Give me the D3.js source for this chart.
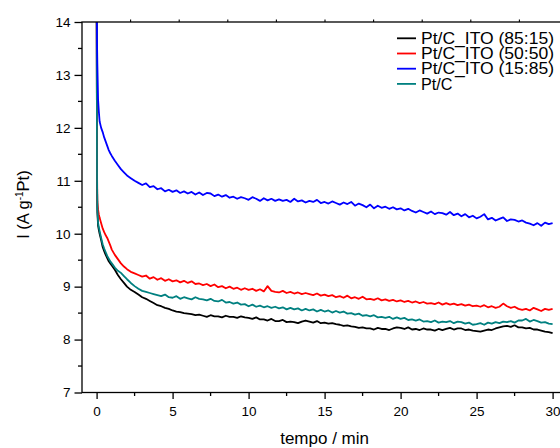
<!DOCTYPE html>
<html><head><meta charset="utf-8">
<script src="https://cdn.jsdelivr.net/npm/d3@7"></script>
<style>
body{margin:0;background:#fff}
svg{display:block}
text{font-family:"Liberation Sans",Arial,Helvetica,sans-serif;fill:#000}
</style>
</head><body>
<svg id="chart" width="560" height="448"></svg>
<script>
// ---------- data ----------
const seriesNames = ["Pt/C_ITO (85:15)", "Pt/C_ITO (50:50)", "Pt/C_ITO (15:85)", "Pt/C"];
const seriesColors = ["#000000", "#ff0000", "#0000ff", "#008080"];
const xTickValues = [0, 5, 10, 15, 20, 25, 30];
const yTickValues = [7, 8, 9, 10, 11, 12, 13, 14];
const xTitle = "tempo / min";

const time = [
  0, 0.03, 0.05, 0.1, 0.15, 0.2, 0.3, 0.4, 0.5, 0.6, 0.7, 0.8, 0.9, 1.0, 1.2, 1.4, 1.6, 1.8, 2.0, 2.25, 2.5, 2.75,
  3, 3.25, 3.5, 3.75, 4, 4.25, 4.5, 4.75, 5, 5.25, 5.5, 5.75, 6, 6.25, 6.5, 6.75,
  7, 7.25, 7.5, 7.75, 8, 8.25, 8.5, 8.75, 9, 9.25, 9.5, 9.75, 10, 10.25, 10.5, 10.75,
  11, 11.25, 11.5, 11.75, 12, 12.25, 12.5, 12.75, 13, 13.25, 13.5, 13.75, 14, 14.25, 14.5, 14.75,
  15, 15.25, 15.5, 15.75, 16, 16.25, 16.5, 16.75, 17, 17.25, 17.5, 17.75, 18, 18.25, 18.5, 18.75,
  19, 19.25, 19.5, 19.75, 20, 20.25, 20.5, 20.75, 21, 21.25, 21.5, 21.75, 22, 22.25, 22.5, 22.75,
  23, 23.25, 23.5, 23.75, 24, 24.25, 24.5, 24.75, 25, 25.25, 25.5, 25.75, 26, 26.25, 26.5, 26.75,
  27, 27.25, 27.5, 27.75, 28, 28.25, 28.5, 28.75, 29, 29.25, 29.5, 29.75, 30
];

const ito8515 = [
  15, 10.9, 10.4, 10.15, 10.07, 10.0, 9.88, 9.75, 9.67, 9.6, 9.54, 9.48, 9.44, 9.4, 9.32, 9.22, 9.14, 9.07, 9.0, 8.94, 8.9, 8.85,
  8.80, 8.77, 8.73, 8.69, 8.65, 8.63, 8.60, 8.58, 8.55, 8.53, 8.52, 8.50, 8.49, 8.48, 8.46, 8.47,
  8.45, 8.43, 8.46, 8.44, 8.44, 8.42, 8.45, 8.43, 8.43, 8.41, 8.44, 8.42, 8.41, 8.39, 8.42, 8.38,
  8.38, 8.36, 8.39, 8.35, 8.35, 8.37, 8.33, 8.34, 8.33, 8.31, 8.34, 8.36, 8.34, 8.32, 8.35, 8.31,
  8.32, 8.30, 8.31, 8.29, 8.28, 8.26, 8.27, 8.25, 8.24, 8.22, 8.23, 8.21, 8.21, 8.19, 8.22, 8.20,
  8.20, 8.18, 8.21, 8.23, 8.22, 8.20, 8.23, 8.19, 8.20, 8.18, 8.21, 8.19, 8.19, 8.17, 8.20, 8.18,
  8.20, 8.22, 8.19, 8.21, 8.21, 8.18, 8.19, 8.17, 8.16, 8.15, 8.17, 8.19, 8.18, 8.21, 8.23, 8.25,
  8.26, 8.24, 8.27, 8.23, 8.23, 8.21, 8.22, 8.19, 8.19, 8.17, 8.15, 8.14, 8.12
];

const ito5050 = [
  15, 11.2, 10.6, 10.45, 10.36, 10.3, 10.2, 10.1, 10.03, 9.97, 9.92, 9.85, 9.78, 9.7, 9.6, 9.52, 9.44, 9.38, 9.33, 9.28, 9.25, 9.22,
  9.19, 9.21, 9.15, 9.18, 9.13, 9.16, 9.11, 9.14, 9.10, 9.12, 9.08, 9.11, 9.07, 9.10, 9.05, 9.06,
  9.03, 9.05, 9.01, 9.04, 8.99, 9.01, 8.97, 9.00, 8.96, 8.98, 8.94, 8.97, 8.94, 8.96, 8.92, 8.95,
  8.91, 9.01, 8.92, 8.90, 8.89, 8.92, 8.88, 8.90, 8.87, 8.89, 8.86, 8.88, 8.86, 8.84, 8.87, 8.83,
  8.85, 8.82, 8.84, 8.80, 8.82, 8.79, 8.83, 8.78, 8.80, 8.77, 8.81, 8.76, 8.77, 8.75, 8.78, 8.74,
  8.76, 8.73, 8.75, 8.72, 8.74, 8.71, 8.73, 8.70, 8.72, 8.69, 8.71, 8.68, 8.69, 8.67, 8.70, 8.66,
  8.69, 8.66, 8.68, 8.65, 8.67, 8.64, 8.66, 8.63, 8.64, 8.62, 8.65, 8.61, 8.63, 8.60, 8.62, 8.68,
  8.63, 8.60, 8.62, 8.58, 8.56, 8.58, 8.55, 8.60, 8.57, 8.54, 8.58, 8.56, 8.58
];

const ito1585 = [
  15, 13.6, 13.2, 12.52, 12.3, 12.12, 12.0, 11.92, 11.82, 11.74, 11.66, 11.58, 11.52, 11.47, 11.38, 11.30, 11.22, 11.16, 11.10, 11.05, 11.00, 10.96,
  10.92, 10.95, 10.88, 10.90, 10.84, 10.86, 10.80, 10.83, 10.79, 10.82, 10.77, 10.80, 10.76, 10.79, 10.74, 10.78,
  10.73, 10.77, 10.76, 10.71, 10.74, 10.70, 10.73, 10.68, 10.70, 10.66, 10.69, 10.67, 10.64, 10.69, 10.66, 10.62,
  10.67, 10.63, 10.66, 10.62, 10.65, 10.62, 10.64, 10.60, 10.66, 10.61, 10.63, 10.59, 10.62, 10.60, 10.64, 10.58,
  10.60, 10.57, 10.61, 10.58, 10.55, 10.59, 10.56, 10.60, 10.53, 10.57, 10.54, 10.50, 10.55, 10.48, 10.53, 10.49,
  10.51, 10.47, 10.50, 10.46, 10.48, 10.44, 10.47, 10.43, 10.40, 10.44, 10.41, 10.38, 10.42, 10.37, 10.40, 10.39,
  10.36, 10.41, 10.35, 10.38, 10.33, 10.37, 10.31, 10.34, 10.29, 10.32, 10.37, 10.27, 10.30, 10.25, 10.28, 10.31,
  10.24, 10.27, 10.26, 10.23, 10.25, 10.21, 10.19, 10.16, 10.20, 10.15, 10.21, 10.18, 10.20
];

const ptc = [
  15, 11.0, 10.5, 10.2, 10.12, 10.05, 9.92, 9.8, 9.72, 9.65, 9.58, 9.53, 9.48, 9.44, 9.36, 9.3, 9.26, 9.2, 9.14, 9.07, 9.01, 8.96,
  8.92, 8.90, 8.88, 8.86, 8.84, 8.82, 8.85, 8.80, 8.79, 8.82, 8.77, 8.80, 8.78, 8.76, 8.80, 8.77,
  8.76, 8.74, 8.77, 8.73, 8.72, 8.75, 8.70, 8.71, 8.68, 8.70, 8.66, 8.67, 8.63, 8.66, 8.62, 8.64,
  8.61, 8.63, 8.60, 8.62, 8.59, 8.61, 8.57, 8.60, 8.57, 8.59, 8.55, 8.58, 8.55, 8.57, 8.53, 8.56,
  8.53, 8.55, 8.51, 8.54, 8.51, 8.53, 8.49, 8.50, 8.47, 8.49, 8.45, 8.46, 8.44, 8.46, 8.42, 8.43,
  8.41, 8.43, 8.39, 8.42, 8.39, 8.41, 8.37, 8.38, 8.36, 8.38, 8.34, 8.35, 8.33, 8.36, 8.32, 8.34,
  8.33, 8.35, 8.31, 8.34, 8.33, 8.30, 8.32, 8.28, 8.29, 8.31, 8.28, 8.32, 8.30, 8.33, 8.31, 8.34,
  8.33, 8.35, 8.32, 8.36, 8.36, 8.39, 8.34, 8.37, 8.35, 8.32, 8.33, 8.30, 8.29
];

const seriesValues = [ito8515, ito5050, ito1585, ptc];
const drawOrder = [0, 1, 3, 2];

// ---------- layout ----------
const svg = d3.select("#chart");
const x = d3.scaleLinear().domain([-0.96, 31]).range([82, 567.8]);
const y = d3.scaleLinear().domain([7, 14]).range([392.5, 22]);
const xTop = d3.scaleLinear().domain([0, 10]).range([82, 568]);

const fontTick = "13.5px";

// clip
svg.append("defs").append("clipPath").attr("id", "plotclip")
  .append("rect").attr("x", x.range()[0]).attr("y", y.range()[1])
  .attr("width", x.range()[1] - x.range()[0]).attr("height", y.range()[0] - y.range()[1]);

// lines
const line = d3.line().x(d => x(d[0])).y(d => y(d[1])).defined(d => d[1] != null && !isNaN(d[1]));
const gLines = svg.append("g").attr("clip-path", "url(#plotclip)");
drawOrder.forEach(i => {
  const pts = time.map((t, k) => [t, seriesValues[i][k]]);
  gLines.append("path").datum(pts)
    .attr("d", line)
    .attr("fill", "none")
    .attr("stroke", seriesColors[i])
    .attr("stroke-width", 1.8)
    .attr("stroke-linejoin", "round");
});

// frame
svg.append("rect")
  .attr("x", x.range()[0]).attr("y", y.range()[1])
  .attr("width", x.range()[1] - x.range()[0]).attr("height", y.range()[0] - y.range()[1])
  .attr("fill", "none").attr("stroke", "#000").attr("stroke-width", 1.3);

// bottom axis
const xMinor = d3.range(0, 30.01, 2.5).filter(v => v % 5 !== 0);
const gx = svg.append("g").attr("transform", `translate(0,${y.range()[0]})`);
gx.call(d3.axisBottom(x).tickValues(xTickValues).tickSize(6.5).tickPadding(7).tickFormat(d3.format("d")));
gx.select(".domain").remove();
gx.selectAll("line").attr("stroke-width", 1.3);
gx.selectAll("text").style("font-size", fontTick).attr("font-family", null);
gx.append("g").selectAll("line").data(xMinor).join("line")
  .attr("x1", d => x(d)).attr("x2", d => x(d)).attr("y1", 0).attr("y2", 3.5)
  .attr("stroke", "#000").attr("stroke-width", 1.3);

// top axis small ticks
svg.append("g").selectAll("line").data(d3.range(1, 11)).join("line")
  .attr("x1", d => xTop(d)).attr("x2", d => xTop(d))
  .attr("y1", y.range()[1]).attr("y2", y.range()[1] - 2.5)
  .attr("stroke", "#000").attr("stroke-width", 1.1);

// left axis
const yMinor = d3.range(7.5, 14, 1);
const gy = svg.append("g").attr("transform", `translate(${x.range()[0]},0)`);
gy.call(d3.axisLeft(y).tickValues(yTickValues).tickSize(7.5).tickPadding(4).tickFormat(d3.format("d")));
gy.select(".domain").remove();
gy.selectAll("line").attr("stroke-width", 1.3);
gy.selectAll("text").style("font-size", fontTick).attr("font-family", null);
gy.append("g").selectAll("line").data(yMinor).join("line")
  .attr("x1", 0).attr("x2", -4).attr("y1", d => y(d)).attr("y2", d => y(d))
  .attr("stroke", "#000").attr("stroke-width", 1.3);

// axis titles
svg.append("text")
  .attr("x", x(15))
  .attr("y", 444)
  .attr("text-anchor", "middle")
  .style("font-size", "17px")
  .text(xTitle);

const yt = svg.append("text")
  .attr("transform", `translate(29,${y(10.55)}) rotate(-90)`)
  .attr("text-anchor", "middle")
  .style("font-size", "16.5px");
yt.append("tspan").text("I (A g");
yt.append("tspan").attr("dy", -6).style("font-size", "10px").text("-1");
yt.append("tspan").attr("dy", 6).text("Pt)");

// legend
const leg = svg.append("g");
seriesNames.forEach((name, i) => {
  const cy = 38.3 + i * 15.2;
  leg.append("line").attr("x1", 397).attr("x2", 416).attr("y1", cy).attr("y2", cy)
    .attr("stroke", seriesColors[i]).attr("stroke-width", 1.8);
  leg.append("text").attr("x", 421).attr("y", cy + 5.6)
    .style("font-size", "16.2px")
    .attr("textLength", 133).attr("lengthAdjust", "spacingAndGlyphs")
    .text(name)
    .attr("textLength", name.length > 5 ? 133 : null);
});
</script>
</body></html>
